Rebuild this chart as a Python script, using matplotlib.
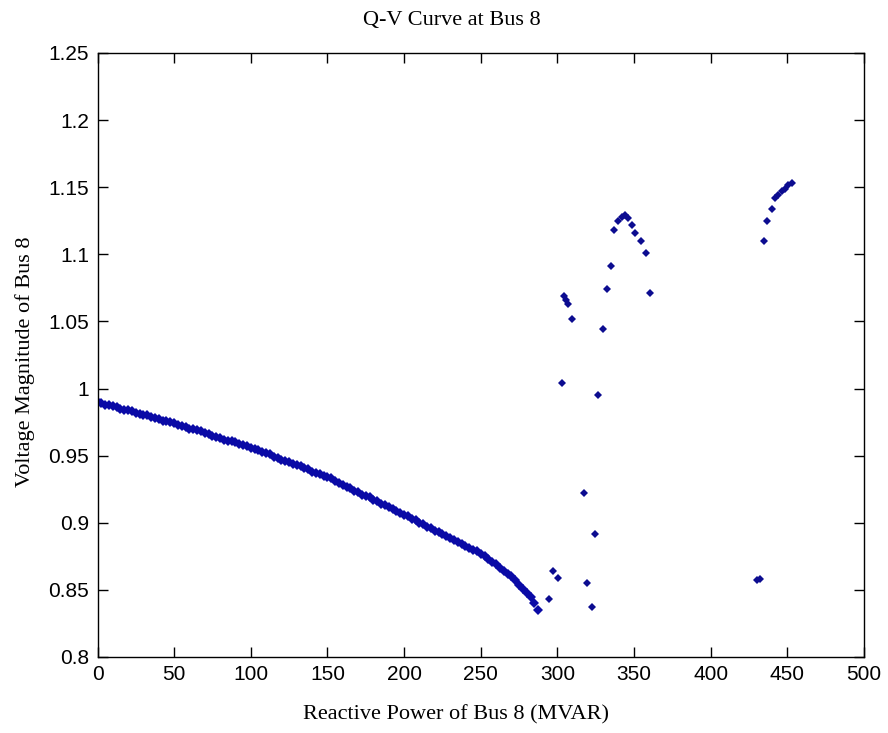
import matplotlib
matplotlib.use("Agg")
import matplotlib.pyplot as plt

# main branch of the Q-V curve
q_main = [0, 2.5, 5, 7.5, 10, 12.5, 15, 17.5, 20, 22.5, 25, 27.5, 30, 32.5, 35, 37.5,
          40, 42.5, 45, 47.5, 50, 52.5, 55, 57.5, 60, 62.5, 65, 67.5, 70, 72.5, 75,
          77.5, 80, 82.5, 85, 87.5, 90, 92.5, 95, 97.5, 100, 102.5, 105, 107.5, 110,
          112.5, 115, 117.5, 120, 122.5, 125, 127.5, 130, 132.5, 135, 137.5, 140,
          142.5, 145, 147.5, 150, 152.5, 155, 157.5, 160, 162.5, 165, 167.5, 170,
          172.5, 175, 177.5, 180, 182.5, 185, 187.5, 190, 192.5, 195, 197.5, 200,
          202.5, 205, 207.5, 210, 212.5, 215, 217.5, 220, 222.5, 225, 227.5, 230,
          232.5, 235, 237.5, 240, 242.5, 245, 247.5, 250, 252.5, 255, 257.5, 260,
          262.5, 265, 267.5, 270, 272.5, 275, 277.5, 280, 282.5, 285, 287.5]
v_main = [0.990, 0.989, 0.988, 0.988, 0.987, 0.986, 0.985, 0.984, 0.984, 0.983,
          0.982, 0.981, 0.980, 0.980, 0.979, 0.978, 0.977, 0.976, 0.976, 0.975,
          0.974, 0.973, 0.972, 0.971, 0.970, 0.970, 0.969, 0.968, 0.967, 0.966,
          0.965, 0.964, 0.963, 0.962, 0.961, 0.961, 0.960, 0.959, 0.958, 0.957,
          0.956, 0.955, 0.954, 0.953, 0.952, 0.951, 0.949, 0.948, 0.947, 0.946,
          0.945, 0.944, 0.943, 0.942, 0.941, 0.940, 0.938, 0.937, 0.936, 0.935,
          0.934, 0.933, 0.931, 0.930, 0.928, 0.927, 0.926, 0.924, 0.923, 0.921,
          0.920, 0.919, 0.917, 0.916, 0.914, 0.913, 0.912, 0.910, 0.909, 0.907,
          0.906, 0.905, 0.903, 0.902, 0.900, 0.899, 0.897, 0.896, 0.894, 0.893,
          0.892, 0.890, 0.889, 0.887, 0.886, 0.884, 0.883, 0.881, 0.880, 0.879,
          0.877, 0.875, 0.873, 0.871, 0.869, 0.866, 0.864, 0.862, 0.860, 0.857,
          0.854, 0.851, 0.848, 0.845, 0.840, 0.835]

# scattered points beyond the nose
q_scatter = [294.5, 296.9, 300.2, 302.8, 304.3, 305.6, 307.1, 309.7, 317.4, 319.5,
             322.4, 324.5, 326.7, 329.9, 332.1, 334.8, 337.1, 339.3, 341.9, 344.1,
             346.3, 348.5, 350.6, 354.3, 357.6, 360.4,
             430.0, 432.2, 435.0, 437.0, 439.8, 442.0, 444.0, 446.3, 448.5, 450.6, 452.8]
v_scatter = [0.843, 0.864, 0.859, 1.004, 1.069, 1.066, 1.063, 1.052, 0.922, 0.855,
             0.837, 0.892, 0.995, 1.044, 1.074, 1.091, 1.118, 1.125, 1.128, 1.129,
             1.127, 1.122, 1.116, 1.110, 1.101, 1.071,
             0.857, 0.858, 1.110, 1.125, 1.134, 1.142, 1.144, 1.147, 1.149, 1.152, 1.153]

x_ticks = [0, 50, 100, 150, 200, 250, 300, 350, 400, 450, 500]
y_ticks = [0.8, 0.85, 0.9, 0.95, 1, 1.05, 1.1, 1.15, 1.2, 1.25]
y_tick_labels = ['0.8', '0.85', '0.9', '0.95', '1', '1.05', '1.1', '1.15', '1.2', '1.25']

fig = plt.figure(figsize=(8.88, 7.33), dpi=100)
ax = fig.add_axes([0.1098, 0.1037, 0.8632, 0.824])

col = '#0a0aa6'
ax.plot(q_main, v_main, linestyle='none', marker='D', markersize=5,
        color=col, markeredgewidth=0)
ax.plot(q_scatter, v_scatter, linestyle='none', marker='D', markersize=4.5,
        color='#0c0c90', markeredgewidth=0)

ax.set_xlim(0, 500)
ax.set_ylim(0.8, 1.25)
ax.set_xticks(x_ticks)
ax.set_yticks(y_ticks)
ax.set_yticklabels(y_tick_labels)
ax.tick_params(direction='in', length=7, width=1, top=True, right=True,
               labelsize=15, pad=6)
for lab in ax.get_xticklabels() + ax.get_yticklabels():
    lab.set_fontfamily('Liberation Sans')
for sp in ax.spines.values():
    sp.set_linewidth(1)

fig.text(452 / 888, 1 - 20 / 733, 'Q-V Curve at Bus 8', ha='center', va='center',
         fontsize=16, family='Liberation Serif')
fig.text(456 / 888, 1 - 715 / 733, 'Reactive Power of Bus 8 (MVAR)', ha='center',
         va='center', fontsize=16, family='Liberation Serif')
fig.text(25 / 888, 1 - 362 / 733, 'Voltage Magnitude of Bus 8', ha='center',
         va='center', rotation=90, fontsize=16, family='Liberation Serif')

fig.savefig('out.png', dpi=100)
